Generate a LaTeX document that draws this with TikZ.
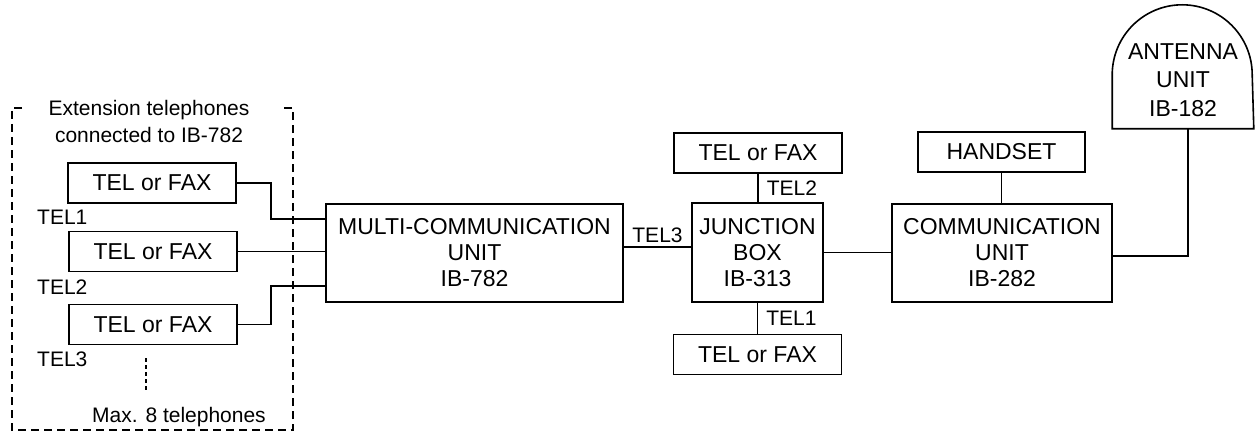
\documentclass[tikz,border=0pt]{standalone}
\usepackage{fontspec}
\setmainfont{Liberation Sans}
\usetikzlibrary{positioning,calc}

\begin{document}
\begin{tikzpicture}[x=1pt, y=-1pt,
    unit/.style={rectangle, draw, line width=1.6pt, inner sep=0pt,
                 align=center, font=\fontsize{23}{26}\selectfont},
    tel/.style={unit, minimum width=168pt, minimum height=40pt},
    lbl/.style={font=\fontsize{21}{27}\selectfont, inner sep=2pt},
    wire/.style={line width=1.6pt},
    frame/.style={line width=1.6pt, dash pattern=on 8pt off 5pt},
  ]
    \useasboundingbox (0,0) rectangle (1255,441);

    % extension telephones on IB-782
    \draw[frame] (22,108) -- (12,108) -- (12,430) -- (293,430) -- (293,108) -- (280,108);
    \node[lbl, align=center] (ext) at (149,121) {Extension telephones\\connected to IB-782};
    \node[tel] (t1) at (152,183) {TEL or FAX};
    \node[tel] (t2) at (153,251.5) {TEL or FAX};
    \node[tel] (t3) at (153,324.5) {TEL or FAX};
    \node[lbl, anchor=west] (l1) at (35,217) {TEL1};
    \node[lbl, anchor=west] (l2) at (35,287) {TEL2};
    \node[lbl, anchor=west] (l3) at (35,359) {TEL3};
    \draw[line width=1.2pt, dash pattern=on 4pt off 3pt] (146,358) -- (146,392);
    \node[lbl] (max) at (179,417) {Max. 8 telephones};

    % main units
    \node[unit, minimum width=297pt, minimum height=98pt] (mcu) at (474.5,253)
      {MULTI-COMMUNICATION\\UNIT\\IB-782};
    \node[unit, minimum width=131pt, minimum height=99pt] (jb) at (757.5,252.5)
      {JUNCTION\\BOX\\IB-313};
    \node[unit, minimum width=220pt, minimum height=98pt] (comm) at (1002,253)
      {COMMUNICATION\\UNIT\\IB-282};
    \node[tel] (jt) at (758,153) {TEL or FAX};
    \node[tel] (jbt) at (757.5,354.5) {TEL or FAX};
    \node[tel, minimum width=167pt] (hs) at (1001.5,152) {HANDSET};
    \node[unit, draw=none, minimum width=140pt, minimum height=96pt,
          font=\fontsize{23}{28.5}\selectfont] (ant) at (1183,80) {ANTENNA\\UNIT\\IB-182};
    \draw[wire] (ant.south west) -- ++(0,-54)
      arc[start angle=180, end angle=0, radius=70pt]
      -- (ant.south east) -- cycle;

    % wiring
    \draw[wire] (t1.east) -- ++(34,0) |- ([yshift=34pt]mcu.west);
    \draw[wire] (t2.east) -- (t2.east -| mcu.west);
    \draw[wire] (t3.east) -- ++(33,0) |- ([yshift=-33pt]mcu.west);
    \draw[wire] ([yshift=6pt]mcu.east) coordinate (m3)
      -- node[lbl, above, inner sep=3pt] {TEL3} (m3 -| jb.west);
    \draw[wire] (jt) -- node[lbl, right=6pt] {TEL2} (jt |- jb.north);
    \draw[wire] (jb) -- node[lbl, right=6pt] {TEL1} (jb |- jbt.north);
    \draw[wire] (jb.east) -- (jb.east -| comm.west);
    \draw[wire] (hs) -- (hs |- comm.north);
    \draw[wire] ([xshift=5pt]ant.south) |- ([yshift=-3pt]comm.east);
  \end{tikzpicture}
\end{document}
